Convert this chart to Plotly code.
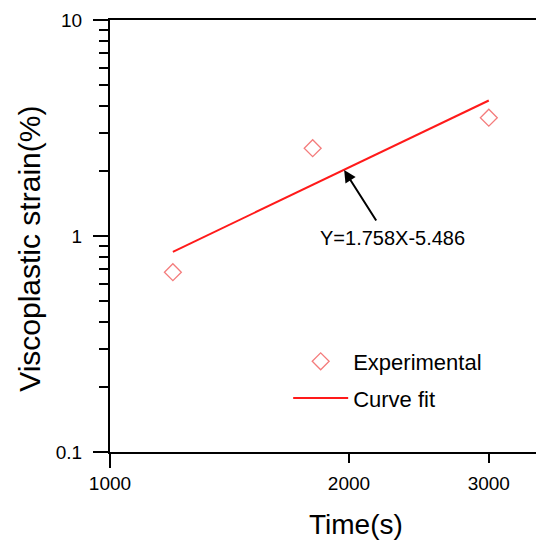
import plotly.graph_objects as go

# Data
exp_time = [1200, 1800, 3000]
exp_strain = [0.68, 2.55, 3.53]
fit_time = [1200, 3000]
fit_strain = [0.845, 4.24]
x_tickvals = [1000, 2000, 3000]
x_ticktext = ["1000", "2000", "3000"]
y_tickvals = [0.1, 1, 10]
y_ticktext = ["0.1", "1", "10"]
y_minor = [0.2, 0.3, 0.4, 0.5, 0.6, 0.7, 0.8, 0.9, 2, 3, 4, 5, 6, 7, 8, 9]
fit_label = "Y=1.758X-5.486"

FONT = "Arial, Liberation Sans, sans-serif"

# page body has an 8px default margin: draw figure 8px smaller
W, H = 536, 533
L, R, T, B = 102, 2, 10, 89
PW, PH = W - L - R, H - T - B

fig = go.Figure()
fig.add_trace(go.Scatter(
    x=exp_time, y=exp_strain, mode="markers", name="Experimental",
    legendgroup="a",
    marker=dict(symbol="diamond-open", size=13, color="#f47c7c", line=dict(width=1.3, color="#f47c7c")),
))
fig.add_trace(go.Scatter(
    x=fit_time, y=fit_strain, mode="lines", name="Curve fit",
    legendgroup="b",
    line=dict(color="#ff1a1a", width=2),
))
fig.add_trace(go.Scatter(x=[1000], y=[1], xaxis="x2", mode="markers",
                         marker=dict(opacity=0), showlegend=False, hoverinfo="skip"))

fig.update_layout(
    width=W, height=H,
    margin=dict(l=L, r=R, t=T, b=B),
    paper_bgcolor="white", plot_bgcolor="white",
    font=dict(family=FONT, color="black", size=19),
    xaxis=dict(
        type="log", range=[3, 3.5416],
        tickmode="array", tickvals=x_tickvals, ticktext=x_ticktext,
        ticks="outside", ticklen=9, tickwidth=2, tickcolor="black",
        showline=True, linewidth=2, linecolor="black", mirror=True,
        showgrid=False, zeroline=False, ticklabeloverflow="allow",
        ticklabelstandoff=4,
        tickfont=dict(size=19, family=FONT),
    ),
    xaxis2=dict(
        type="log", range=[3, 3.5416], overlaying="x",
        tickmode="array", tickvals=[1000], ticks="outside", ticklen=15,
        tickwidth=2, tickcolor="black", showticklabels=False,
        showgrid=False, zeroline=False, showline=False,
    ),
    yaxis=dict(
        type="log", range=[-1, 1],
        tickmode="array", tickvals=y_tickvals, ticktext=y_ticktext,
        ticks="outside", ticklen=15, tickwidth=2, tickcolor="black",
        minor=dict(tickmode="array", tickvals=y_minor, ticks="outside",
                   ticklen=9, tickwidth=2, tickcolor="black", showgrid=False),
        showline=True, linewidth=2, linecolor="black", mirror=True,
        showgrid=False, zeroline=False, ticklabeloverflow="allow",
        ticklabelstandoff=7,
        tickfont=dict(size=19, family=FONT),
    ),
    legend=dict(
        x=179 / PW, y=(PH - 322) / PH, xanchor="left", yanchor="top",
        bgcolor="rgba(0,0,0,0)", font=dict(size=22, family=FONT),
        traceorder="grouped", tracegroupgap=5, itemwidth=55,
    ),
    annotations=[
        dict(x=3.2949, y=0.3054, xref="x", yref="y", text="", showarrow=True,
             arrowhead=2, arrowsize=1.2, arrowwidth=2, arrowcolor="black",
             ax=33, ay=52),
        dict(x=3.3563, y=-0.0092, xref="x", yref="y", text=fit_label, showarrow=False,
             font=dict(size=20, family=FONT), xanchor="center", yanchor="middle"),
        dict(x=247 / PW, y=(PH - 507) / PH, xref="paper", yref="paper",
             text="Time(s)", showarrow=False, font=dict(size=28, family=FONT),
             xanchor="center", yanchor="middle"),
        dict(x=-81 / PW, y=(PH - 229.5) / PH, xref="paper", yref="paper",
             text="Viscoplastic strain(%)", showarrow=False, textangle=-90,
             font=dict(size=30, family=FONT), xanchor="center", yanchor="middle"),
    ],
)
fig.write_html("out.html")
